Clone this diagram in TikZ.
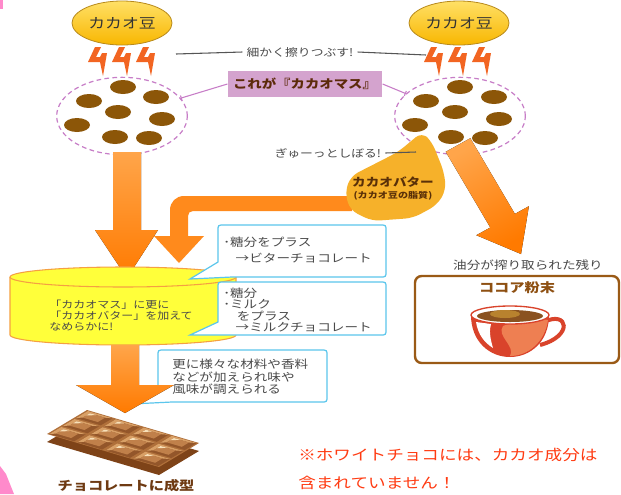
\documentclass[tikz,border=0pt]{standalone}
\usepackage{fontspec}
\setmainfont[FakeStretch=1.2]{Noto Sans CJK JP}
\usetikzlibrary{shapes.geometric,arrows.meta}

\definecolor{beantop}{HTML}{FFE066}
\definecolor{beanbot}{HTML}{F8B600}
\definecolor{beanedge}{HTML}{B88A1C}
\definecolor{boltorange}{HTML}{F26522}
\definecolor{massline}{HTML}{C77DC7}
\definecolor{grain}{HTML}{8C5608}
\definecolor{massfill}{HTML}{D4A3CE}
\definecolor{masstext}{HTML}{5C2A0A}
\definecolor{linegray}{HTML}{555555}
\definecolor{txtgray}{HTML}{4A4A4A}
\definecolor{flowtop}{HTML}{FFA54A}
\definecolor{flowbot}{HTML}{FF7A00}
\definecolor{butterflow}{HTML}{FF8A1C}
\definecolor{butter}{HTML}{F6B12A}
\definecolor{buttertext}{HTML}{5A3008}
\definecolor{bubbleline}{HTML}{5BC6EC}
\definecolor{tankfill}{HTML}{FFFF3A}
\definecolor{tankline}{HTML}{F5A042}
\definecolor{cocoaline}{HTML}{9A5A16}
\definecolor{cocoatext}{HTML}{8E5012}
\definecolor{cupred}{HTML}{D9432B}
\definecolor{cuplight}{HTML}{EE7F52}
\definecolor{cocoa}{HTML}{8A5220}
\definecolor{foam}{HTML}{B8822E}
\definecolor{chocoside}{HTML}{7E4318}
\definecolor{chocodark}{HTML}{93562A}
\definecolor{choco}{HTML}{B0703A}
\definecolor{chocolight}{HTML}{D9A066}
\definecolor{chocotop}{HTML}{C0804A}
\definecolor{chocohl}{HTML}{F8E0B8}
\definecolor{chocotext}{HTML}{6E3A12}
\definecolor{notered}{HTML}{FF3B12}
\definecolor{pinkedge}{HTML}{FF8ACB}

\tikzset{
  bean/.style={ellipse, draw=beanedge, line width=0.6pt, top color=beantop, bottom color=beanbot,
    minimum width=75pt, minimum height=33pt, inner sep=0pt, text=black!80,
    font=\fontsize{10.5}{12}\selectfont},
  mass/.style={ellipse, draw=massline, line width=0.9pt, dash pattern=on 3.5pt off 2.5pt,
    minimum width=98pt, minimum height=58pt},
  lbl/.style={text=txtgray, font=\fontsize{8}{9}\selectfont, inner sep=3pt},
  pointer/.style={draw=linegray, line width=0.8pt},
  masslbl/.style={fill=massfill, text=masstext, minimum width=116pt, minimum height=19pt,
    inner sep=0pt, font=\bfseries\fontsize{9}{10}\selectfont},
  massptr/.style={draw=massline, line width=0.8pt, -{Bar[width=4pt]}},
  flow/.style={top color=flowtop, bottom color=flowbot},
  bubble/.style={draw=bubbleline, fill=white, line width=0.9pt},
  bubtxt/.style={text=txtgray, align=left, inner sep=0pt, anchor=west},
  tank/.style={fill=tankfill, draw=tankline, line width=0.8pt},
}

\begin{document}
\begin{tikzpicture}[x=0.75pt,y=-0.75pt]
\useasboundingbox (0,0) rectangle (621,494);
\fill[white] (0,0) rectangle (621,494);
\fill[pinkedge] (0,0) rectangle (3,9);
\fill[pinkedge] (0,466) -- (6,474) -- (14,494) -- (0,494) -- cycle;

% cocoa beans on top
\node[bean] (beanL) at (122,23) {カカオ豆};
\node[bean] (beanR) at (459,23) {カカオ豆};

% grinding bolts
\foreach \bx in {88,112,136,424,448,472}
  \fill[boltorange, shift={(\bx,47)}] (7,0) -- (13,0) -- (8,10) -- (12,10) -- (14,6) -- (19,6)
    -- (15,29) -- (12,15) -- (0,15) -- cycle;

\node[lbl] (grind) at (300,52) {細かく擦りつぶす!};
\coordinate (grindL) at (176,54);
\coordinate (grindR) at (426,55);
\draw[pointer] (grind.west) -- (grindL);
\draw[pointer] (grind.east) -- (grindR);

% ground cacao mass
\node[mass] (massL) at (122,116) {};
\node[mass] (massR) at (460,116) {};
\foreach \gx/\gy in {123/87, 89/101, 156/97, 118/112, 162/119, 77/125, 115/137, 149/138}
  \fill[grain] (\gx,\gy) ellipse [x radius=13, y radius=7];
\foreach \gx/\gy in {460/87, 426/101, 494/97, 455/112, 499/119, 415/125, 451/137, 485/138}
  \fill[grain] (\gx,\gy) ellipse [x radius=13, y radius=7];

\node[masslbl] (masslbl) at (305,84) {これが『カカオマス』};
\draw[massptr] (masslbl.west) -- (massL);
\draw[massptr] (masslbl.east) -- (massR);

% big arrows
\fill[flow] (113,152) -- (141,152) -- (141,230) -- (158,230) -- (127,278) -- (95,230) -- (113,230) -- cycle;
\fill[flow, shading angle=29] (470.3,138.2) -- (514.9,213.9) -- (528.9,206.2) -- (521,254)
  -- (476.3,235.2) -- (490.3,227.5) -- (445.7,151.8) -- cycle;
\fill[butterflow] (352,196) -- (184,196) .. controls (176,196) and (170,202) .. (170,210)
  -- (170,236) -- (154,236) -- (179,263) -- (204,236) -- (188,236) -- (188,216)
  .. controls (188,213) and (190,211) .. (193,211) -- (352,211) -- cycle;

% cocoa butter
\fill[butter, rounded corners=6pt] (422,132) -- (432,142) -- (444,172) -- (446,190) -- (437,205)
  -- (413,218) -- (372,221) -- (350,210) -- (345,192) -- (351,176) -- (398,152) -- cycle;
\node[text=buttertext, font=\bfseries\fontsize{8.5}{9}\selectfont] (butter) at (393,182) {カカオバター};
\node[text=buttertext, font=\bfseries\fontsize{6.3}{7}\selectfont] (butterfat) at (393,196) {(カカオ豆の脂質)};
\node[lbl] (squeeze) at (328,153) {ぎゅーっとしぼる!};
\coordinate (squeezeEnd) at (416,152);
\draw[pointer] (squeeze.east) -- (squeezeEnd);

% mixing tank
\fill[tankfill] (10,277) -- (10,335) arc [start angle=180, end angle=0, x radius=113, y radius=10] -- (236,277) -- cycle;
\draw[tankline, line width=0.8pt] (10,277) -- (10,335) arc [start angle=180, end angle=0, x radius=113, y radius=10] -- (236,277);
\filldraw[tank] (123,277) ellipse [x radius=113, y radius=10];
\node[bubtxt, text=txtgray, font=\fontsize{7.5}{8.3}\selectfont] (tanktxt) at (49,316)
  {「カカオマス」に更に\\「カカオバター」を加えて\\なめらかに!};

% speech bubbles
\draw[bubble] (190,279) -- (218,262) -- (218,231) .. controls (218,225) .. (224,225) -- (380,225)
  .. controls (386,225) .. (386,231) -- (386,271) .. controls (386,277) .. (380,277) -- (232,277) -- cycle;
\node[bubtxt, font=\fontsize{8.5}{12}\selectfont] (bitter) at (223,250)
  {･糖分をプラス\\\hspace{1.1em}→ビターチョコレート};

\draw[bubble] (190,335) -- (218,322) -- (218,288) .. controls (218,282) .. (224,282) -- (380,282)
  .. controls (386,282) .. (386,288) -- (386,329) .. controls (386,335) .. (380,335) -- (232,335) -- cycle;
\node[bubtxt, font=\fontsize{8.5}{8.5}\selectfont] (milk) at (223,310)
  {･糖分\\･ミルク\\\hspace{1.2em}をプラス\\\hspace{1.1em}→ミルクチョコレート};

\draw[bubble] (131,404) -- (158,388) -- (158,356) .. controls (158,350) .. (164,350) -- (321,350)
  .. controls (327,350) .. (327,356) -- (327,396) .. controls (327,402) .. (321,402) -- (172,402) -- cycle;
\node[bubtxt, font=\fontsize{8.5}{9.4}\selectfont] (flavour) at (172,377)
  {更に様々な材料や香料\\などが加えられ味や\\風味が調えられる};

% last arrow down to the bar
\fill[flow] (111,345) -- (139,345) -- (139,385) -- (174,385) -- (125,413) -- (76,385) -- (111,385) -- cycle;

% chocolate bar, drawn on a slanted unit square
\begin{scope}[shift={(47,434)}, x={(30pt,18pt)}, y={(84pt,-24.75pt)}]
  \fill[chocoside, yshift=-6pt] (0,0) -- (1,0) -- (1,1) -- (0,1) -- cycle;
  \fill[choco] (0,0) -- (1,0) -- (1,1) -- (0,1) -- cycle;
  \foreach \i in {0,1,2}
    \foreach \j in {0,1,2,3} {
      \fill[chocodark] ({(\i+.06)/3},{(\j+.06)/4}) -- ({(\i+.94)/3},{(\j+.06)/4})
        -- ({(\i+.94)/3},{(\j+.94)/4}) -- ({(\i+.06)/3},{(\j+.94)/4}) -- cycle;
      \fill[chocolight] ({(\i+.06)/3},{(\j+.06)/4}) -- ({(\i+.94)/3},{(\j+.06)/4})
        -- ({(\i+.94)/3},{(\j+.94)/4}) -- ({(\i+.8)/3},{(\j+.74)/4})
        -- ({(\i+.8)/3},{(\j+.2)/4}) -- ({(\i+.26)/3},{(\j+.2)/4}) -- cycle;
      \fill[chocotop] ({(\i+.26)/3},{(\j+.2)/4}) -- ({(\i+.8)/3},{(\j+.2)/4})
        -- ({(\i+.8)/3},{(\j+.74)/4}) -- ({(\i+.26)/3},{(\j+.74)/4}) -- cycle;
      \fill[chocohl] ({(\i+.8)/3},{(\j+.2)/4}) -- ({(\i+.52)/3},{(\j+.2)/4})
        -- ({(\i+.8)/3},{(\j+.42)/4}) -- cycle;
    }
\end{scope}
\node[text=chocotext, font=\bfseries\fontsize{9.5}{10}\selectfont] (bar) at (126,486) {チョコレートに成型};

% cocoa powder
\node[lbl, font=\fontsize{8.5}{9}\selectfont] (residue) at (528,265) {油分が搾り取られた残り};
\draw[cocoaline, line width=1.8pt, fill=white, rounded corners=5pt] (415,276) rectangle (619,363);
\node[text=cocoatext, font=\bfseries\fontsize{9.5}{10}\selectfont] (cocoalbl) at (517,288) {ココア粉末};
\draw[cupred, line width=3pt] (544,322) .. controls (568,310) and (574,336) .. (540,345);
\fill[cupred] (471,315) .. controls (471,342) and (490,357) .. (510,357) .. controls (530,357) and (549,342) .. (549,315) -- cycle;
\fill[cuplight] (503,326) .. controls (522,318) and (540,318) .. (548,320) .. controls (545,342) and (528,356) .. (510,356)
  .. controls (516,346) and (496,336) .. (503,326) -- cycle;
\fill[white] (476,322) .. controls (478,335) and (485,343) .. (493,348) .. controls (490,338) and (489,330) .. (491,324) -- cycle;
\draw[cupred, fill=white, line width=1pt] (510,315) ellipse [x radius=39, y radius=9];
\fill[cocoa] (510,316) ellipse [x radius=33, y radius=6];
\fill[foam] (505,314) ellipse [x radius=15, y radius=4];

% note on white chocolate
\node[text=notered, font=\fontsize{11}{21}\selectfont, align=left, anchor=west, inner sep=0pt] (note) at (298,469)
  {※ホワイトチョコには、カカオ成分は\\含まれていません！};
\end{tikzpicture}
\end{document}
